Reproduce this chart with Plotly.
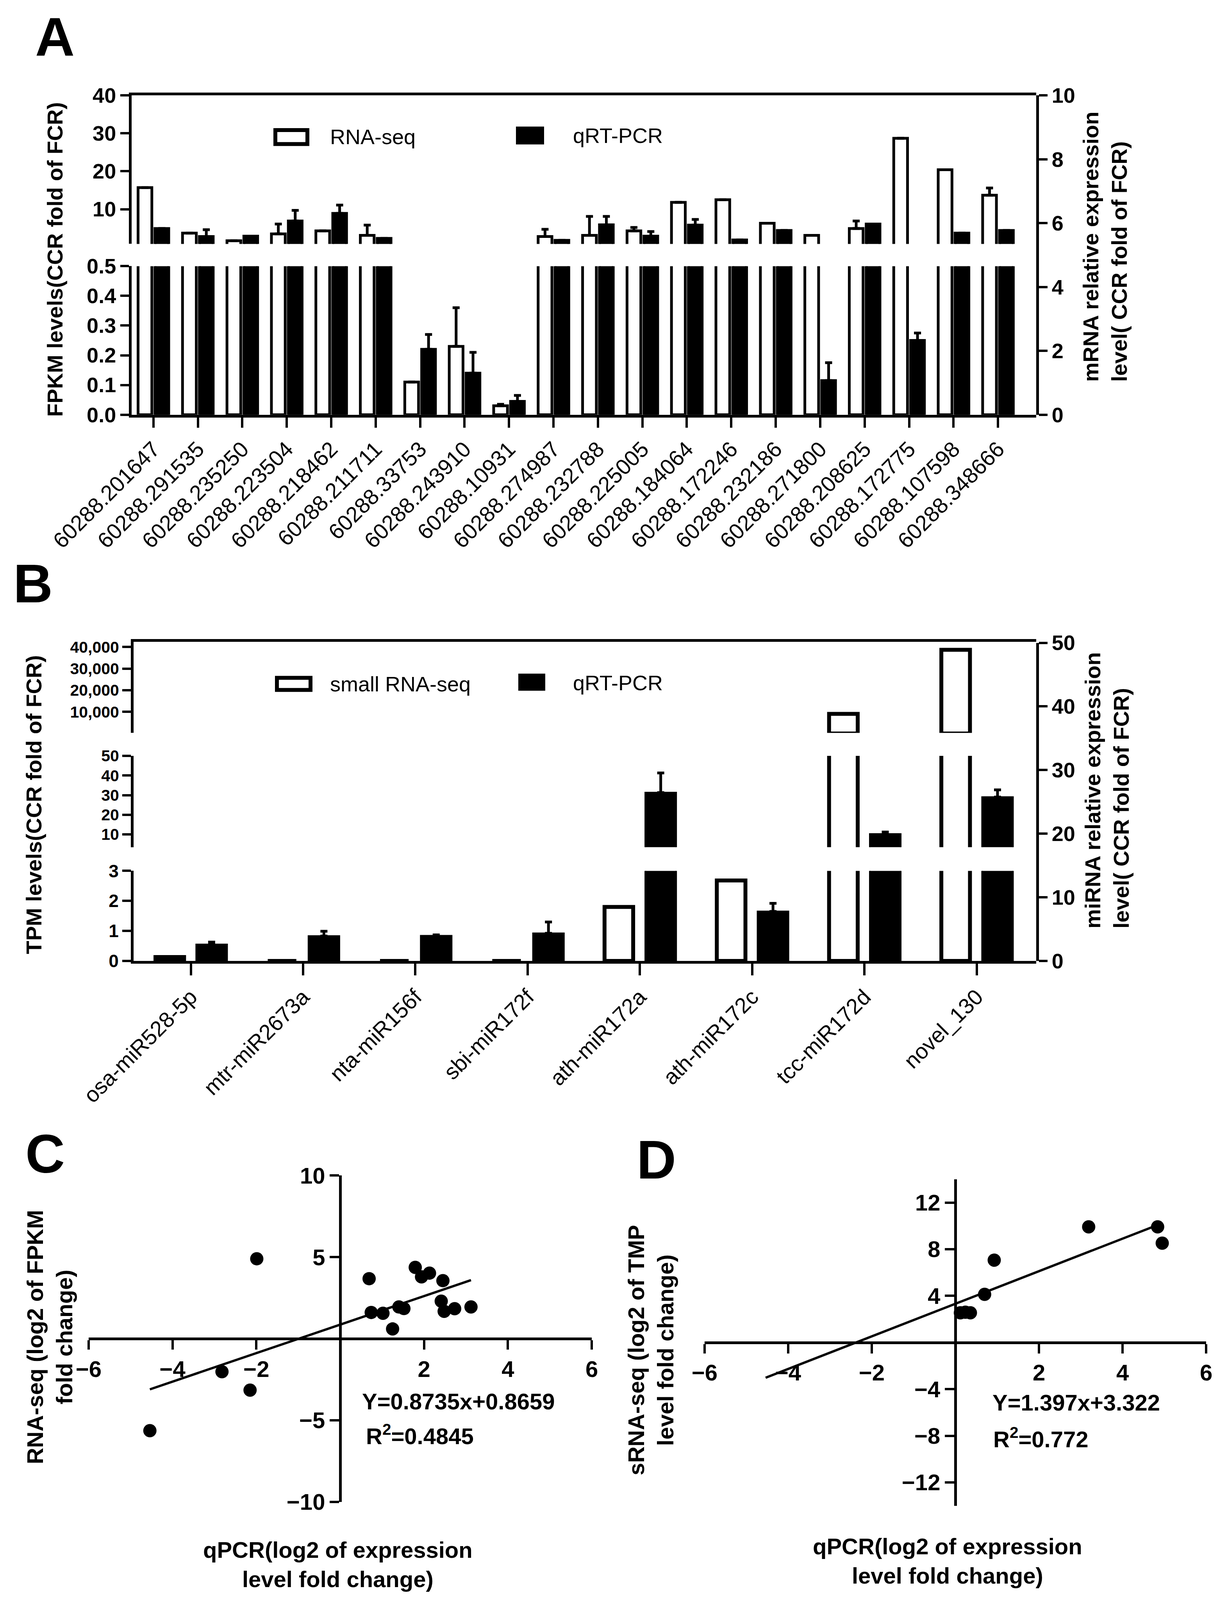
import plotly.graph_objects as go

W, H = 3121, 4244


def px(x):
    return x / W


def py(y):
    return 1 - y / H


# ---------------- data ----------------
genes = ["60288.201647", "60288.291535", "60288.235250", "60288.223504", "60288.218462",
         "60288.211711", "60288.33753", "60288.243910", "60288.10931", "60288.274987",
         "60288.232788", "60288.225005", "60288.184064", "60288.172246", "60288.232186",
         "60288.271800", "60288.208625", "60288.172775", "60288.107598", "60288.348666"]
rna_seq = [15.7, 3.7, 1.7, 3.5, 4.3, 3.1, 0.11, 0.23, 0.03, 2.8,
           3.1, 4.3, 11.8, 12.5, 6.3, 3.1, 4.9, 28.7, 20.4, 13.7]
rna_seq_err = [0, 0, 0, 2.6, 0, 2.7, 0, 0.13, 0.005, 1.9,
               5.0, 0.9, 0, 0, 0, 0, 2.0, 0, 0, 1.9]
qpcr_a = [4.9, 2.8, 2.9, 6.9, 8.9, 2.3, 0.22, 0.14, 0.045, 1.8,
          5.9, 2.9, 5.8, 1.9, 4.4, 0.115, 6.1, 0.25, 3.7, 4.4]
qpcr_a_err = [0, 1.8, 0, 2.8, 2.2, 0, 0.05, 0.07, 0.02, 0,
              2.2, 1.2, 1.5, 0, 0, 0.06, 0, 0.025, 0, 0]

mirnas = ["osa-miR528-5p", "mtr-miR2673a", "nta-miR156f", "sbi-miR172f",
          "ath-miR172a", "ath-miR172c", "tcc-miR172d", "novel_130"]
srna_seq = [0.13, 0, 0, 0, 1.8, 2.68, 9100, 38700]
qpcr_b = [0.55, 0.83, 0.84, 0.92, 31.3, 1.65, 10.2, 29.0]
qpcr_b_err = [0.08, 0.16, 0.03, 0.38, 10.0, 0.27, 1.0, 3.7]

c_qpcr = [-1.99, 0.69, 1.79, 1.94, 2.13, 2.45, 0.74, 1.02, 1.40, 1.52,
          1.25, 2.41, 2.48, 2.73, 3.12, -2.82, -2.15, -4.54]
c_rnaseq = [4.90, 3.68, 4.37, 3.79, 4.02, 3.56, 1.61, 1.56, 1.95, 1.85,
            0.60, 2.30, 1.68, 1.84, 1.95, -2.02, -3.15, -5.63]
c_line_x = [-4.54, 3.12]
c_line_y = [-3.10, 3.59]

d_qpcr = [0.12, 0.24, 0.36, 0.70, 0.93, 3.19, 4.84, 4.95]
d_srnaseq = [2.55, 2.60, 2.55, 4.13, 7.06, 9.92, 9.92, 8.52]
d_line_x = [-4.54, 4.84]
d_line_y = [-3.02, 10.08]

ticks_a_low = [0, 0.1, 0.2, 0.3, 0.4, 0.5]
ticks_a_up = [10, 20, 30, 40]
ticks_a_right = [0, 2, 4, 6, 8, 10]
ticks_b_low = [0, 1, 2, 3]
ticks_b_mid = [10, 20, 30, 40, 50]
ticks_b_up = [10000, 20000, 30000, 40000]
ticks_b_right = [0, 10, 20, 30, 40, 50]

# broken-axis segment ranges
seg_a_low = [0, 0.5]
seg_a_up = [0.85, 40]
seg_b_low = [0, 3]
seg_b_mid = [3.5, 50]
seg_b_up = [300, 42450]

# ---------------- style ----------------
FONT = "Liberation Sans, Arial, sans-serif"
LW = 7

fig = go.Figure()


def seg(vals, lo):
    """values visible in a broken-axis segment starting at lo"""
    return [v if v > lo else None for v in vals]


def bar(xc, y, err, xa, ya, white, width, offset, lw):
    kw = dict(x=xc, y=y, xaxis=xa, yaxis=ya, width=width, offset=offset,
              marker=dict(color="white" if white else "black",
                          line=dict(color="black", width=lw)),
              showlegend=False, hoverinfo="skip")
    if err is not None:
        kw["error_y"] = dict(type="data", array=err, arrayminus=[0] * len(err),
                             symmetric=False, color="black", thickness=7, width=9)
    return go.Bar(**kw)


# Panel A: lower segment (x, y) and upper segment (x2, y2)
for xa, ya, lo in (("x", "y", -1), ("x2", "y2", seg_a_up[0])):
    fig.add_trace(bar(genes, seg(rna_seq, lo), rna_seq_err, xa, ya, True, 0.31, -0.345, 7))
    fig.add_trace(bar(genes, seg(qpcr_a, lo), qpcr_a_err, xa, ya, False, 0.31, 0.035, 7))
fig.add_trace(go.Scatter(x=[genes[0]], y=[None], xaxis="x", yaxis="y3",
                         mode="markers", showlegend=False, hoverinfo="skip"))

# Panel B: lower (x3,y4), middle (x3,y5), upper (x4,y6)
for xa, ya, lo in (("x3", "y4", -1), ("x3", "y5", seg_b_mid[0]), ("x4", "y6", seg_b_up[0])):
    fig.add_trace(bar(mirnas, seg(srna_seq, lo), None, xa, ya, True, 0.255, -0.315, 10))
    fig.add_trace(bar(mirnas, seg(qpcr_b, lo), qpcr_b_err, xa, ya, False, 0.275, 0.048, 4))
fig.add_trace(go.Scatter(x=[mirnas[0]], y=[None], xaxis="x3", yaxis="y7",
                         mode="markers", showlegend=False, hoverinfo="skip"))

# Panel C
fig.add_trace(go.Scatter(x=c_line_x, y=c_line_y, xaxis="x5", yaxis="y8", mode="lines",
                         line=dict(color="black", width=6), showlegend=False))
fig.add_trace(go.Scatter(x=c_qpcr, y=c_rnaseq, xaxis="x5", yaxis="y8", mode="markers",
                         marker=dict(color="black", size=34), showlegend=False))
# Panel D
fig.add_trace(go.Scatter(x=d_line_x, y=d_line_y, xaxis="x6", yaxis="y9", mode="lines",
                         line=dict(color="black", width=6), showlegend=False))
fig.add_trace(go.Scatter(x=d_qpcr, y=d_srnaseq, xaxis="x6", yaxis="y9", mode="markers",
                         marker=dict(color="black", size=34), showlegend=False))

common = dict(showgrid=False, zeroline=False, showline=True, linecolor="black",
              linewidth=LW, ticks="outside", tickcolor="black", tickwidth=6,
              automargin=False)

xA = [px(337), px(2653)]
xB = [px(342), px(2653)]
yA_low = [py(1100), py(706)]
yA_up = [py(647), py(253)]
yA_right = [py(1100), py(253)]
yB_low = [py(2549), py(2310)]
yB_mid = [py(2247), py(2005)]
yB_up = [py(1944), py(1702)]
yB_right = [py(2549), py(1705)]
xC = [px(227), px(1515)]
yC = [py(3984), py(3118)]
xD = [px(1804), px(3088)]
yD = [py(3994), py(3128)]

cat_font = dict(family=FONT, size=56, color="black")
num_font = dict(family=FONT, size=54, color="black", weight="bold")
b_low_font = dict(family=FONT, size=46, color="black", weight="bold")
b_tight_font = dict(family=FONT, size=41, color="black", weight="bold")
sc_num = dict(family=FONT, size=58, color="black", weight="bold")

fig.update_layout(
    width=W, height=H, autosize=False,
    margin=dict(l=0, r=0, t=0, b=0),
    paper_bgcolor="white", plot_bgcolor="rgba(0,0,0,0)",
    barmode="overlay",
    xaxis=dict(**common, domain=xA, anchor="y", type="category",
               categoryorder="array", categoryarray=genes,
               range=[-0.49, 19.86], ticklen=26, tickangle=-45,
               tickmode="array", tickvals=genes, tickfont=cat_font),
    xaxis2=dict(**{**common, "ticks": ""}, domain=xA, anchor="y2", type="category",
                matches="x", side="top", showticklabels=False),
    yaxis=dict(**common, domain=yA_low, anchor="x", range=seg_a_low, ticklen=22,
               tickmode="array", tickvals=ticks_a_low,
               ticktext=[f"{v:.1f}" for v in ticks_a_low], tickfont=num_font),
    yaxis2=dict(**common, domain=yA_up, anchor="x2", range=seg_a_up, ticklen=22,
                tickmode="array", tickvals=ticks_a_up, tickfont=num_font),
    yaxis3=dict(**common, domain=yA_right, anchor="x", side="right", range=[0, 10],
                ticklen=22, tickmode="array", tickvals=ticks_a_right, tickfont=num_font),
    xaxis3=dict(**common, domain=xB, anchor="y4", type="category",
                categoryorder="array", categoryarray=mirnas,
                range=[-0.51, 7.53], ticklen=30, tickangle=-45,
                tickmode="array", tickvals=mirnas, tickfont=cat_font),
    xaxis4=dict(**{**common, "ticks": ""}, domain=xB, anchor="y6", type="category",
                matches="x3", side="top", showticklabels=False),
    yaxis4=dict(**common, domain=yB_low, anchor="x3", range=seg_b_low, ticklen=22,
                tickmode="array", tickvals=ticks_b_low, tickfont=b_low_font),
    yaxis5=dict(**common, domain=yB_mid, anchor="x3", range=seg_b_mid, ticklen=22,
                tickmode="array", tickvals=ticks_b_mid, tickfont=b_tight_font),
    yaxis6=dict(**common, domain=yB_up, anchor="x4", range=seg_b_up, ticklen=22,
                tickmode="array", tickvals=ticks_b_up,
                ticktext=[f"{v:,}" for v in ticks_b_up], tickfont=b_tight_font),
    yaxis7=dict(**common, domain=yB_right, anchor="x3", side="right", range=[0, 50],
                ticklen=22, tickmode="array", tickvals=ticks_b_right, tickfont=num_font),
    xaxis5=dict(**common, domain=xC, anchor="free", position=sum(yC) / 2,
                range=[-6, 6], ticklen=24, tickmode="array",
                tickvals=[-6, -4, -2, 2, 4, 6], tickfont=sc_num),
    yaxis8=dict(**common, domain=yC, anchor="free", position=sum(xC) / 2,
                range=[-10, 10], ticklen=24, tickmode="array",
                tickvals=[-10, -5, 5, 10], tickfont=sc_num),
    xaxis6=dict(**common, domain=xD, anchor="free", position=sum(yD) / 2,
                range=[-6, 6], ticklen=24, tickmode="array",
                tickvals=[-6, -4, -2, 2, 4, 6], tickfont=sc_num),
    yaxis9=dict(**common, domain=yD, anchor="free", position=sum(xD) / 2,
                range=[-14, 14], ticklen=24, tickmode="array",
                tickvals=[-12, -8, -4, 4, 8, 12], tickfont=sc_num),
)

# ---------------- legends (drawn) ----------------
shapes = [
    dict(type="rect", xref="paper", yref="paper", x0=px(705), x1=px(787), y0=py(382), y1=py(345),
         fillcolor="white", line=dict(color="black", width=10)),
    dict(type="rect", xref="paper", yref="paper", x0=px(1326), x1=px(1388), y0=py(378), y1=py(341),
         fillcolor="black", line=dict(color="black", width=10)),
    dict(type="rect", xref="paper", yref="paper", x0=px(709), x1=px(795), y0=py(1830), y1=py(1798),
         fillcolor="white", line=dict(color="black", width=10)),
    dict(type="rect", xref="paper", yref="paper", x0=px(1332), x1=px(1391), y0=py(1827), y1=py(1792),
         fillcolor="black", line=dict(color="black", width=10)),
]
fig.update_layout(shapes=shapes)

leg_font = dict(family=FONT, size=54, color="black")
title_font = dict(family=FONT, size=56, color="black", weight="bold")


def ann(text, x, y, font, xanchor="center", yanchor="middle", angle=0, align="center"):
    fig.add_annotation(text=text, x=px(x), y=py(y), xref="paper", yref="paper",
                       showarrow=False, font=font, xanchor=xanchor, yanchor=yanchor,
                       textangle=angle, align=align)


ann("RNA-seq", 843, 363, leg_font, xanchor="left")
ann("qRT-PCR", 1465, 360, leg_font, xanchor="left")
ann("small RNA-seq", 843, 1814, leg_font, xanchor="left")
ann("qRT-PCR", 1465, 1811, leg_font, xanchor="left")

# panel letters
letter_font = dict(family=FONT, size=140, color="black", weight="bold")
ann("A", 140, 98, letter_font)
ann("B", 84, 1547, letter_font)
ann("C", 115, 3060, letter_font)
ann("D", 1680, 3076, letter_font)

# axis titles
ann("FPKM levels(CCR fold of FCR)", 140, 688, title_font, angle=-90)
ann("mRNA relative expression<br>level( CCR fold of FCR)", 2829, 1015, title_font,
    yanchor="bottom", angle=-90, align="left")
ann("TPM levels(CCR fold of FCR)", 87, 2135, title_font, angle=-90)
ann("miRNA relative expression<br>level( CCR fold of FCR)", 2834, 2465, title_font,
    yanchor="bottom", angle=-90, align="left")

sc_title = dict(family=FONT, size=58, color="black", weight="bold")
ann("RNA-seq (log2 of FPKM<br>fold change)", 127, 3547, sc_title, angle=-90)
ann("qPCR(log2 of expression<br>level fold change)", 865, 4150, sc_title)
ann("sRNA-seq (log2 of TMP<br>level fold change)", 1666, 3582, sc_title, angle=-90)
ann("qPCR(log2 of expression<br>level fold change)", 2426, 4140, sc_title)

eq_font = dict(family=FONT, size=58, color="black", weight="bold")
ann("Y=0.8735x+0.8659", 925, 3717, eq_font, xanchor="left")
ann("R<sup>2</sup>=0.4845", 935, 3805, eq_font, xanchor="left")
ann("Y=1.397x+3.322", 2539, 3720, eq_font, xanchor="left")
ann("R<sup>2</sup>=0.772", 2541, 3813, eq_font, xanchor="left")

# fit the figure to the visible viewport (browser chrome can shrink it)
fit_script = """
document.body.style.margin = '0';
document.body.style.overflow = 'hidden';
var gd = document.getElementById('{plot_id}');
var h = window.innerHeight, w = window.innerWidth;
if (h > 2000 && w > 2000 && (Math.abs(h - %d) > 2 || Math.abs(w - %d) > 2)) {
    return Plotly.relayout(gd, {height: h, width: w});
}
""" % (H, W)

fig.write_html("out.html", config={"displayModeBar": False}, post_script=fit_script)
